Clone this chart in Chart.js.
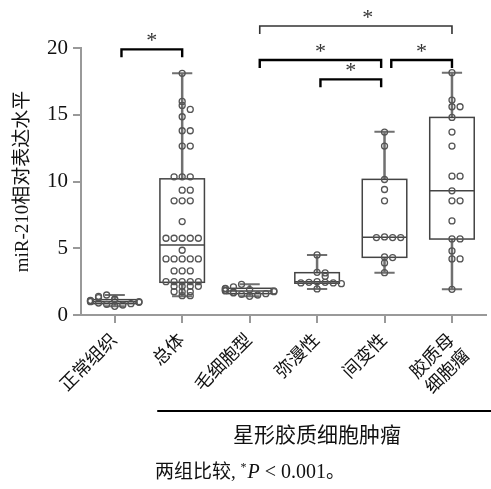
<!DOCTYPE html>
<html>
<head>
<meta charset="utf-8">
<script src="https://cdn.jsdelivr.net/npm/chart.js@4.4.0/dist/chart.umd.min.js"></script>
<style>
  html, body { margin: 0; padding: 0; background: #fff; }
</style>
</head>
<body>
<canvas id="boxchart" width="491" height="489"></canvas>
<script>
const groups = ['正常组织', '总体', '毛细胞型', '弥漫性', '间变性', ['胶质母', '细胞瘤']];
const yTicks = [0, 5, 10, 15, 20];

// box summary per group
const boxMin = [0.65, 1.4, 1.4, 1.95, 3.17, 1.92];
const boxQ1  = [0.85, 2.45, 1.6, 2.38, 4.32, 5.69];
const boxMed = [1.0, 5.25, 1.8, 2.5, 5.82, 9.3];
const boxQ3  = [1.15, 10.2, 2.0, 3.17, 10.16, 14.8];
const boxMax = [1.5, 18.1, 2.3, 4.5, 13.73, 18.15];

// individual samples
const normalTissue = [0.65, 0.75, 0.8, 0.85, 0.9, 0.95, 1.0, 1.0, 1.05, 1.1, 1.15, 1.2, 1.3, 1.4, 1.5];
const allTumour = [18.1, 16.0, 15.7, 15.4, 14.85, 13.8, 13.8, 12.65, 12.65, 10.35, 10.35, 10.35,
  9.35, 9.35, 8.55, 8.55, 8.55, 7.0, 5.75, 5.75, 5.75, 5.75, 5.75, 4.85, 4.2, 4.2, 4.2, 4.2, 4.2,
  3.3, 3.3, 3.3, 2.5, 2.5, 2.5, 2.5, 2.5, 2.15, 2.15, 2.15, 2.15, 1.75, 1.75, 1.75, 1.45, 1.45];
const pilocytic = [1.4, 1.5, 1.55, 1.6, 1.65, 1.7, 1.75, 1.8, 1.8, 1.85, 1.9, 1.95, 2.0, 2.1, 2.3];
const diffuse = [4.5, 3.2, 3.15, 2.9, 2.5, 2.45, 2.45, 2.4, 2.4, 2.35, 1.95];
const anaplastic = [13.7, 12.65, 10.15, 9.4, 8.55, 5.85, 5.8, 5.8, 5.8, 4.35, 4.3, 3.9, 3.17];
const gbm = [18.15, 16.1, 15.6, 15.6, 14.8, 13.7, 12.65, 10.4, 10.4, 9.3, 8.55, 8.55, 7.05,
  5.7, 5.7, 4.8, 4.2, 4.2, 1.92];
const samples = [normalTissue, allTumour, pilocytic, diffuse, anaplastic, gbm];

// significance brackets: [from, to, height]
const brackets = [
  { from: 0.1, to: 1.0, y: 19.9 },
  { from: 2.15, to: 5.0, y: 21.65, star: 3.75, thin: true },
  { from: 2.15, to: 3.95, y: 19.1 },
  { from: 4.1, to: 5.0, y: 19.1 },
  { from: 3.05, to: 3.95, y: 17.65 }
];

const serif = "'Liberation Serif', 'Noto Sans CJK SC', serif";

// simple beeswarm so that equal values sit side by side
function swarm(vals, gi) {
  const seq = [0, 1, -1, 2, -2, 3, -3];
  const out = [];
  vals.forEach(v => {
    const k = out.filter(p => Math.abs(p.y - v) < 0.3).length;
    out.push({ x: gi + seq[k % seq.length] * 0.12, y: v });
  });
  return out;
}
const points = samples.flatMap((vals, gi) => swarm(vals, gi));

const boxPlugin = {
  id: 'boxes',
  beforeDatasetsDraw(chart) {
    const { ctx, scales: { x, y } } = chart;
    ctx.save();
    groups.forEach((g, i) => {
      const cx = x.getPixelForValue(i);
      const half = x.getPixelForValue(i + 0.33) - cx;
      const cap = x.getPixelForValue(i + 0.15) - cx;
      ctx.strokeStyle = '#707070';
      ctx.lineWidth = 2.5;
      ctx.beginPath();
      ctx.moveTo(cx, y.getPixelForValue(boxMax[i]));
      ctx.lineTo(cx, y.getPixelForValue(boxQ3[i]));
      ctx.moveTo(cx, y.getPixelForValue(boxQ1[i]));
      ctx.lineTo(cx, y.getPixelForValue(boxMin[i]));
      ctx.stroke();
      ctx.lineWidth = 2;
      ctx.beginPath();
      [boxMax[i], boxMin[i]].forEach(v => {
        ctx.moveTo(cx - cap, y.getPixelForValue(v));
        ctx.lineTo(cx + cap, y.getPixelForValue(v));
      });
      ctx.stroke();
      ctx.strokeStyle = '#444';
      ctx.lineWidth = 1.5;
      const top = y.getPixelForValue(boxQ3[i]);
      const bot = y.getPixelForValue(boxQ1[i]);
      ctx.strokeRect(cx - half, top, half * 2, bot - top);
      ctx.beginPath();
      ctx.moveTo(cx - half, y.getPixelForValue(boxMed[i]));
      ctx.lineTo(cx + half, y.getPixelForValue(boxMed[i]));
      ctx.stroke();
    });
    ctx.restore();
  },
  afterDraw(chart) {
    const { ctx, scales: { x, y } } = chart;
    ctx.save();
    // brackets + stars
    brackets.forEach(b => {
      const x1 = x.getPixelForValue(b.from), x2 = x.getPixelForValue(b.to);
      const yy = y.getPixelForValue(b.y);
      ctx.strokeStyle = b.thin ? '#333' : '#000';
      ctx.lineWidth = b.thin ? 1.6 : 2.4;
      ctx.beginPath();
      ctx.moveTo(x1, yy + 8);
      ctx.lineTo(x1, yy);
      ctx.lineTo(x2, yy);
      ctx.lineTo(x2, yy + 8);
      ctx.stroke();
      const sx = x.getPixelForValue(b.star !== undefined ? b.star : (b.from + b.to) / 2);
      ctx.font = '22px ' + serif;
      ctx.fillStyle = '#333';
      const m = ctx.measureText('*');
      ctx.textAlign = 'center';
      ctx.textBaseline = 'alphabetic';
      const mid = (m.actualBoundingBoxAscent - m.actualBoundingBoxDescent) / 2;
      ctx.fillText('*', sx, yy - 12 + mid);
    });
    // group line and caption under the axis
    const lineY = chart.chartArea.bottom + 96;
    ctx.strokeStyle = '#000';
    ctx.lineWidth = 2;
    ctx.beginPath();
    ctx.moveTo(x.getPixelForValue(0.63), lineY);
    ctx.lineTo(chart.width, lineY);
    ctx.stroke();
    ctx.fillStyle = '#111';
    ctx.font = '21px ' + serif;
    ctx.textAlign = 'center';
    ctx.textBaseline = 'middle';
    ctx.fillText('星形胶质细胞肿瘤', x.getPixelForValue(3), lineY + 25);
    // footnote
    const parts = [
      { t: '两组比较, ', f: '19px ' + serif, dy: 0 },
      { t: '*', f: '12px ' + serif, dy: -5 },
      { t: 'P', f: 'italic 20px ' + serif, dy: 0 },
      { t: ' < 0.001', f: '20px ' + serif, dy: 0 },
      { t: '。', f: '19px ' + serif, dy: 0 }
    ];
    let fx = 155;
    const fy = lineY + 62;
    ctx.textAlign = 'left';
    parts.forEach(p => {
      ctx.font = p.f;
      ctx.fillText(p.t, fx, fy + p.dy);
      fx += ctx.measureText(p.t).width + (p.t === '*' ? 1 : 0);
    });
    ctx.restore();
  }
};

new Chart(document.getElementById('boxchart'), {
  type: 'scatter',
  data: {
    datasets: [{
      data: points,
      pointRadius: 3,
      pointBorderWidth: 1.3,
      pointBorderColor: '#555',
      pointBackgroundColor: 'rgba(255,255,255,0)'
    }]
  },
  options: {
    responsive: false,
    animation: false,
    layout: { padding: { top: 48, left: 0, right: 4, bottom: 84 } },
    plugins: { legend: { display: false }, tooltip: { enabled: false } },
    scales: {
      x: {
        type: 'linear',
        min: -0.5,
        max: 5.5,
        afterBuildTicks: axis => { axis.ticks = groups.map((g, i) => ({ value: i })); },
        afterFit: axis => { axis.height = 90; axis.paddingLeft = 0; axis.paddingRight = 0; },
        grid: { drawOnChartArea: false, color: '#999', lineWidth: 2, tickLength: 8 },
        border: { color: '#999', width: 2 },
        ticks: {
          minRotation: 45, maxRotation: 45, autoSkip: false, padding: 7,
          color: '#111', font: { family: serif, size: 18 },
          callback: v => groups[v]
        }
      },
      y: {
        min: 0,
        max: 20,
        afterBuildTicks: axis => { axis.ticks = yTicks.map(v => ({ value: v })); },
        afterFit: axis => { axis.width = 81; },
        grid: { drawOnChartArea: false, color: '#999', lineWidth: 2, tickLength: 8 },
        border: { color: '#999', width: 2 },
        ticks: { color: '#111', padding: 5, font: { family: serif, size: 21 } },
        title: {
          display: true, text: 'miR-210相对表达水平', color: '#111',
          font: { family: serif, size: 19 }, padding: { top: 12, bottom: 0 }
        }
      }
    }
  },
  plugins: [boxPlugin]
});
</script>
</body>
</html>
